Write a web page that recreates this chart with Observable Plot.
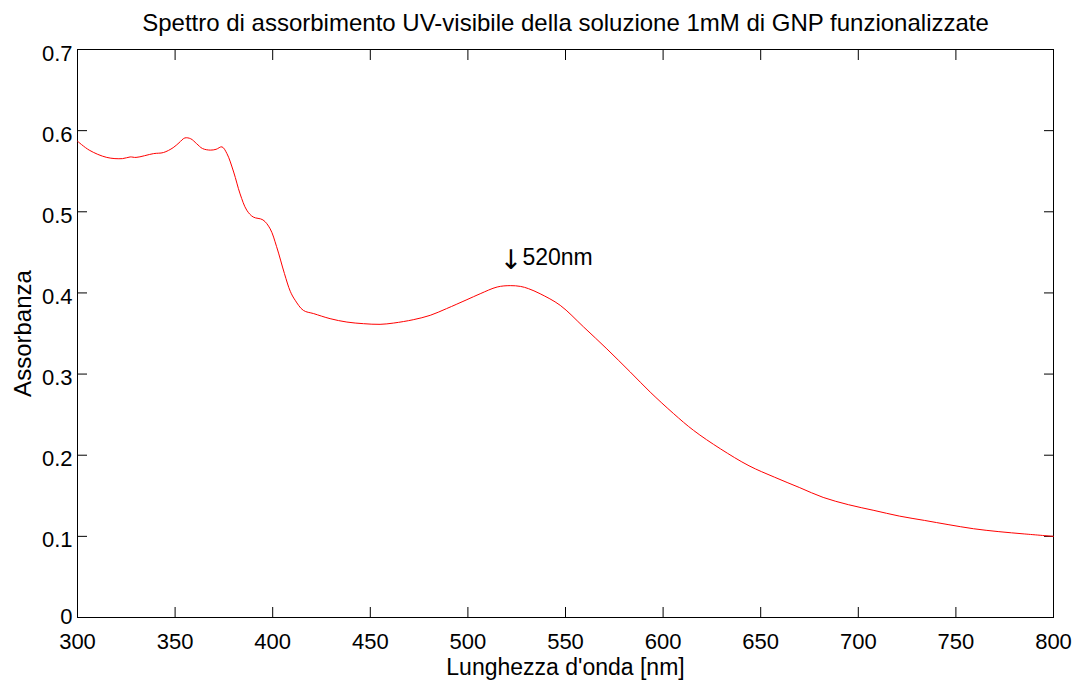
<!DOCTYPE html>
<html>
<head>
<meta charset="utf-8">
<script src="https://cdn.jsdelivr.net/npm/d3@7"></script>
<script src="https://cdn.jsdelivr.net/npm/@observablehq/plot@0.6"></script>
<style>
  html, body { margin: 0; padding: 0; background: white; }
</style>
</head>
<body>
<div id="chart"></div>
<script>
const titleText = "Spettro di assorbimento UV-visibile della soluzione 1mM di GNP funzionalizzate";
const xLabel = "Lunghezza d'onda [nm]";
const yLabel = "Assorbanza";
const peakArrow = "\u2193";
const peakLabel = "520nm";
const peakX = 520;
const peakY = 0.435;

const xTicks = [300, 350, 400, 450, 500, 550, 600, 650, 700, 750, 800];
const yTicks = [0, 0.1, 0.2, 0.3, 0.4, 0.5, 0.6, 0.7];

const wavelength = [300, 306, 315, 323, 327, 330, 339, 344, 349, 352, 355, 358, 361, 364, 368, 371, 374, 376.5, 380, 383.3, 386.7, 390, 395, 398.7, 402, 406, 409, 411.5, 415.7, 421, 429.4, 438, 446.5, 455, 462, 472, 480.7, 489, 499.5, 506.3, 515, 521.7, 527, 531, 537, 547.3, 559.3, 571.2, 583.2, 593.4, 605.4, 615.6, 629.3, 644, 657, 670, 682, 695, 708, 721, 734, 746, 759, 772, 785, 800];
const absorbance = [0.587, 0.576, 0.567, 0.5655, 0.5676, 0.567, 0.5717, 0.573, 0.579, 0.585, 0.591, 0.590, 0.584, 0.578, 0.576, 0.577, 0.580, 0.572, 0.549, 0.522, 0.502, 0.4936, 0.490, 0.479, 0.457, 0.424, 0.402, 0.391, 0.3785, 0.3745, 0.3683, 0.3641, 0.3621, 0.3613, 0.3629, 0.367, 0.3724, 0.3806, 0.3917, 0.399, 0.4073, 0.409, 0.408, 0.4053, 0.399, 0.3847, 0.358, 0.331, 0.3025, 0.2778, 0.2512, 0.2306, 0.208, 0.187, 0.173, 0.160, 0.148, 0.139, 0.132, 0.125, 0.1196, 0.1145, 0.1094, 0.1058, 0.103, 0.100];

const spectrum = wavelength.map((w, i) => ({w, a: absorbance[i]}));
const fmt = d => String(d);

const chart = Plot.plot({
  width: 1078,
  height: 681,
  marginLeft: 77,
  marginRight: 25,
  marginTop: 49,
  marginBottom: 64,
  style: {fontFamily: "'Liberation Sans', Arial, Helvetica, sans-serif", fontSize: "22px", color: "black", background: "white"},
  x: {domain: [300, 800]},
  y: {domain: [0, 0.7]},
  marks: [
    Plot.frame({stroke: "black", strokeWidth: 1}),
    Plot.axisX(xTicks, {anchor: "bottom", tickSize: -10, fill: "none", label: null}),
    Plot.axisX(xTicks, {anchor: "top", tickSize: -10, fill: "none", label: null}),
    Plot.axisY(yTicks, {anchor: "left", tickSize: -10, fill: "none", label: null}),
    Plot.axisY(yTicks, {anchor: "right", tickSize: -10, fill: "none", label: null}),
    Plot.axisX(xTicks, {anchor: "bottom", tickSize: 0, tickPadding: 16, tickFormat: fmt, label: null, fontSize: 22}),
    Plot.axisY(yTicks.filter(d => d > 0), {anchor: "left", tickSize: 0, tickPadding: 5, dy: 4, tickFormat: fmt, label: null, fontSize: 22}),
    Plot.axisY(yTicks.filter(d => d === 0), {anchor: "left", tickSize: 0, tickPadding: 5, dy: -1, tickFormat: fmt, label: null, fontSize: 22}),
    Plot.line(spectrum, {x: "w", y: "a", stroke: "#ff0000", strokeWidth: 1, curve: "catmull-rom"}),
    Plot.text([peakArrow], {x: peakX, y: peakY, text: d => d, textAnchor: "middle", lineAnchor: "bottom", dx: 4, dy: 4, fontSize: 27, fontFamily: "'DejaVu Sans', sans-serif"}),
    Plot.text([peakLabel], {x: peakX, y: peakY, text: d => d, textAnchor: "start", lineAnchor: "bottom", dx: 15.5, fontSize: 23}),
    Plot.text([titleText], {frameAnchor: "top", text: d => d, lineAnchor: "bottom", dy: -19, fontSize: 24}),
    Plot.text([xLabel], {frameAnchor: "bottom", text: d => d, lineAnchor: "bottom", dy: 57, fontSize: 23}),
    Plot.text([yLabel], {frameAnchor: "left", text: d => d, textAnchor: "middle", lineAnchor: "bottom", rotate: -90, dx: -47, fontSize: 24})
  ]
});
document.getElementById("chart").appendChild(chart);
</script>
</body>
</html>
